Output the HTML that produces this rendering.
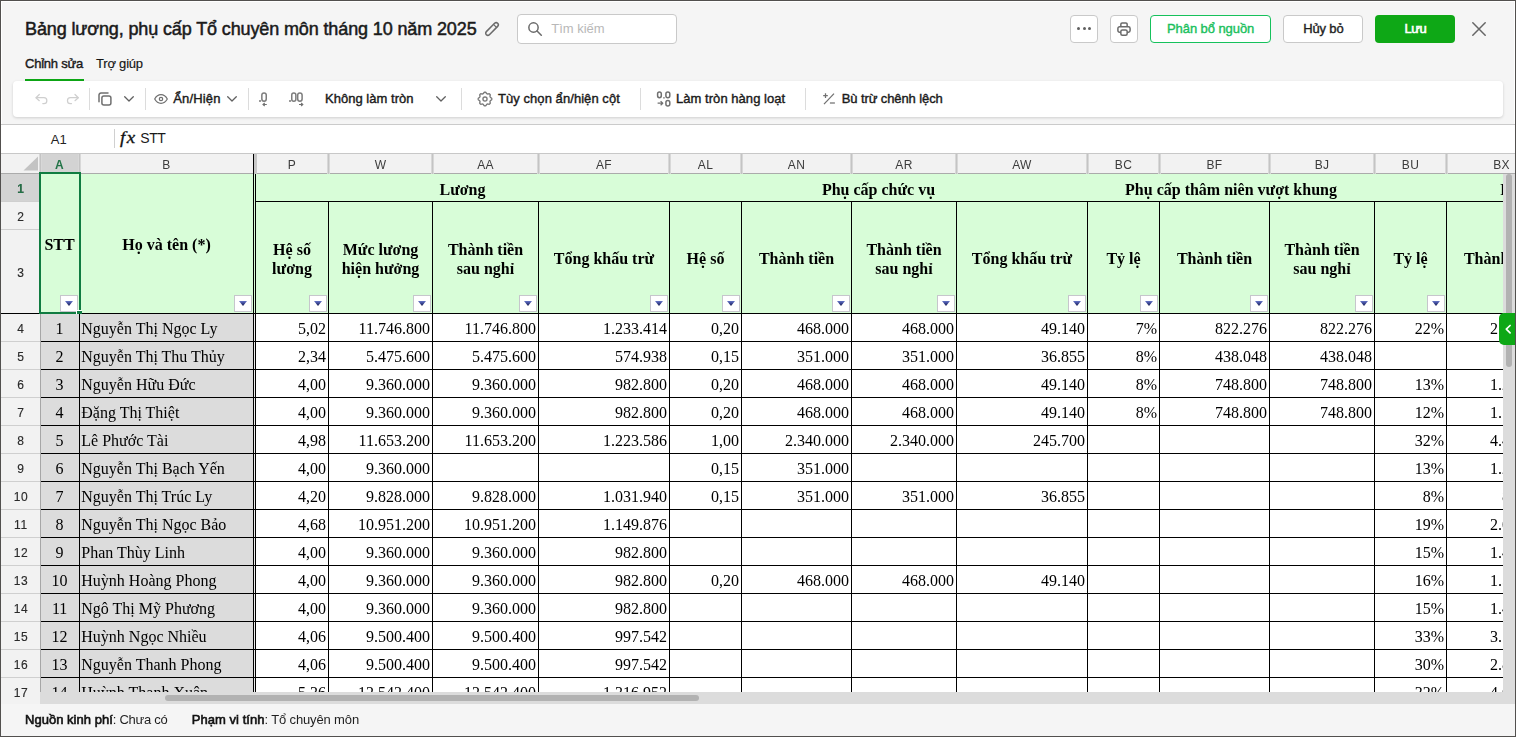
<!DOCTYPE html>
<html><head><meta charset="utf-8"><title>Bảng lương</title>
<style>
html,body{margin:0;padding:0}
body{width:1516px;height:737px;position:relative;overflow:hidden;background:#f5f5f5;font-family:"Liberation Sans",sans-serif}
div{position:absolute;box-sizing:border-box}
.t{white-space:pre}
svg{position:absolute;overflow:visible}
.btn{background:#fff;border:1px solid #c9c9c9;border-radius:4px}
.sep{background:#dcdcdc;width:1px}
.hl{background:#000;height:1px}
.vl{background:#000;width:1px}
.fb{background:#fff;border:1px solid #c6c6cc}
.fb:after{content:"";position:absolute;left:4px;top:5px;width:8px;height:5px;background:linear-gradient(#6878c8,#3a4696 45%,#1c1f48);clip-path:polygon(0 0,100% 0,50% 100%)}

.ch{font:12px/18px 'Liberation Sans',sans-serif;color:#3c3c3c;letter-spacing:0.3px;transform:translateX(-50%);white-space:pre}
.rh{left:1px;width:40px;text-align:center;font:12px/18px 'Liberation Sans',sans-serif;color:#2a2a2a;letter-spacing:0.7px;-webkit-text-stroke:0.15px #2a2a2a}
.hx{font:bold 16px/20px 'Liberation Serif',serif;color:#000;transform:translateX(-50%);white-space:pre}
.dc{font:16px/20px 'Liberation Serif',serif;color:#000;white-space:pre}
</style></head><body>

<div style="left:1px;top:1px;width:1514px;height:735px;border:1px solid #fff"></div>
<div id="title" class="t" style="left:25px;top:17px;font:normal 18px/25px 'Liberation Sans',sans-serif;color:#1a1a1a;letter-spacing:-0.124px;white-space:pre;-webkit-text-stroke:0.5px #1a1a1a;">Bảng lương, phụ cấp Tổ chuyên môn tháng 10 năm 2025</div>
<svg style="left:484px;top:21px" width="16" height="16" viewBox="0 0 16 16" fill="none" stroke="#6a6a6a" stroke-width="1.5" stroke-linecap="round"><g transform="rotate(45 8 8)"><rect x="5.85" y="0" width="4.3" height="16" rx="2.15"/><path d="M5.85 3.7 H10.15" stroke-width="1.2"/></g></svg>
<div class="btn" style="left:517px;top:14px;width:160px;height:30px;"></div>
<svg style="left:527px;top:21px" width="16" height="16" viewBox="0 0 16 16" fill="none" stroke="#6a6a6a" stroke-width="1.5" stroke-linecap="round"><circle cx="6.5" cy="6.5" r="4.65"/><path d="M10 10 L14.3 14.3"/></svg>
<div id="search" class="t" style="left:551.3px;top:20px;font:normal 13px/18px 'Liberation Sans',sans-serif;color:#b8b8b8;letter-spacing:-0.032px;white-space:pre;">Tìm kiếm</div>
<div class="btn" style="left:1070px;top:15px;width:28px;height:28px;"></div>
<div style="left:1077.2px;top:27.2px;width:3px;height:3px;background:#606060;border-radius:50%"></div>
<div style="left:1082.5px;top:27.2px;width:3px;height:3px;background:#606060;border-radius:50%"></div>
<div style="left:1087.9px;top:27.2px;width:3px;height:3px;background:#606060;border-radius:50%"></div>
<div class="btn" style="left:1110px;top:15px;width:28px;height:28px;"></div>
<svg style="left:1116px;top:21px" width="16" height="16" viewBox="0 0 16 16" fill="none" stroke="#6a6a6a" stroke-width="1.5" stroke-linejoin="round"><path d="M4.85 5.6 V3.2 a1.25 1.25 0 0 1 1.25 -1.25 h3.8 a1.25 1.25 0 0 1 1.25 1.25 V5.6"/><path d="M4.85 11.3 H3.6 a1.7 1.7 0 0 1 -1.7 -1.7 V7.5 a1.7 1.7 0 0 1 1.7 -1.7 h8.8 a1.7 1.7 0 0 1 1.7 1.7 V9.6 a1.7 1.7 0 0 1 -1.7 1.7 H11.15"/><rect x="4.85" y="9.05" width="6.3" height="5.1" rx="1.5"/></svg>
<div style="left:1150px;top:15px;width:121px;height:28px;background:#fff;border:1px solid #16c15c;border-radius:4px"></div>
<div id="pbn" class="t" style="left:1167px;top:20px;font:normal 13px/18px 'Liberation Sans',sans-serif;color:#1bbf5d;letter-spacing:-0.077px;white-space:pre;-webkit-text-stroke:0.4px #1bbf5d;">Phân bổ nguồn</div>
<div class="btn" style="left:1283px;top:15px;width:80px;height:28px;"></div>
<div id="huybo" class="t" style="left:1303.3px;top:20px;font:normal 13px/18px 'Liberation Sans',sans-serif;color:#1f1f1f;letter-spacing:-0.167px;white-space:pre;-webkit-text-stroke:0.4px #1f1f1f;">Hủy bỏ</div>
<div style="left:1375px;top:15px;width:80px;height:28px;background:#0ea816;border-radius:4px"></div>
<div id="luu" class="t" style="left:1404.4px;top:20px;font:normal 13px/18px 'Liberation Sans',sans-serif;color:#fff;letter-spacing:-0.424px;white-space:pre;-webkit-text-stroke:0.6px #fff;">Lưu</div>
<svg style="left:1472px;top:22px" width="14" height="14" viewBox="0 0 14 14" fill="none" stroke="#666" stroke-width="1.5" stroke-linecap="round"><path d="M0.8 0.8 L13.2 13.2 M13.2 0.8 L0.8 13.2"/></svg>
<div id="tab1" class="t" style="left:25px;top:55px;font:normal 13px/18px 'Liberation Sans',sans-serif;color:#1a1a1a;letter-spacing:-0.224px;white-space:pre;-webkit-text-stroke:0.4px #1a1a1a;">Chỉnh sửa</div>
<div id="tab2" class="t" style="left:96px;top:55px;font:normal 13px/18px 'Liberation Sans',sans-serif;color:#141414;letter-spacing:-0.202px;white-space:pre;-webkit-text-stroke:0.15px #141414;">Trợ giúp</div>
<div style="left:25px;top:79px;width:59px;height:2px;background:#0ea816"></div>
<div style="left:13px;top:81px;width:1490px;height:36px;background:#fff;border-radius:4px;box-shadow:0 1px 3px rgba(0,0,0,0.16)"></div>
<svg style="left:35px;top:93px" width="13" height="12" viewBox="0 0 13 12" fill="none" stroke="#cfcfcf" stroke-width="1.25" stroke-linecap="round" stroke-linejoin="round"><path d="M4.3 1.5 L1 4.7 L4.3 7.7"/><path d="M1.2 4.7 H8.9 a2.95 2.95 0 0 1 0 5.9 H7.8"/></svg>
<svg style="left:66px;top:93px" width="13" height="12" viewBox="0 0 13 12" fill="none" stroke="#cfcfcf" stroke-width="1.25" stroke-linecap="round" stroke-linejoin="round"><path d="M9 1.5 L12.3 4.7 L9 7.7"/><path d="M12.1 4.7 H4.4 a2.95 2.95 0 0 0 0 5.9 H5.5"/></svg>
<div class="sep" style="left:89px;top:88px;width:1px;height:22px;"></div>
<svg style="left:98px;top:92px" width="14" height="14" viewBox="0 0 14 14" fill="none" stroke="#707070" stroke-width="1.5" stroke-linejoin="round" stroke-linecap="round"><rect x="3.9" y="3.9" width="9" height="9" rx="2"/><path d="M10 1.05 H3 a2 2 0 0 0 -2 2 V9.8"/></svg>
<svg style="left:124.3px;top:96px" width="10" height="6" viewBox="0 0 10 6" fill="none" stroke="#606060" stroke-width="1.3" stroke-linecap="round" stroke-linejoin="round"><path d="M0.7 0.8 L5 5 L9.3 0.8"/></svg>
<div class="sep" style="left:145px;top:88px;width:1px;height:22px;"></div>
<svg style="left:154px;top:94px" width="14" height="10" viewBox="0 0 14 10" fill="none" stroke="#707070" stroke-width="1.2"><path d="M0.7 5 C2.4 1.9 4.6 0.7 7 0.7 S11.6 1.9 13.3 5 C11.6 8.1 9.4 9.3 7 9.3 S2.4 8.1 0.7 5 Z"/><circle cx="7" cy="5" r="1.7"/></svg>
<div id="anhien" class="t" style="left:173.3px;top:90px;font:normal 13px/18px 'Liberation Sans',sans-serif;color:#1a1a1a;letter-spacing:0.136px;white-space:pre;-webkit-text-stroke:0.4px #1a1a1a;">Ẩn/Hiện</div>
<svg style="left:227px;top:96px" width="10" height="6" viewBox="0 0 10 6" fill="none" stroke="#606060" stroke-width="1.3" stroke-linecap="round" stroke-linejoin="round"><path d="M0.7 0.8 L5 5 L9.3 0.8"/></svg>
<div class="sep" style="left:248px;top:88px;width:1px;height:22px;"></div>
<svg style="left:258px;top:91px" width="12" height="16" viewBox="0 0 12 16" fill="none" stroke="#7c7c7c" stroke-width="1.5"><rect x="1" y="9" width="2" height="2" fill="#9a9a9a" stroke="none"/><rect x="3.85" y="1.9" width="4.4" height="8.4" rx="2.2"/><path d="M8.8 13.5 H5.2 M6.7 12 L5 13.5 L6.7 15" stroke-width="1.1" stroke="#707070"/></svg>
<svg style="left:288px;top:91px" width="16" height="16" viewBox="0 0 16 16" fill="none" stroke="#7c7c7c" stroke-width="1.5"><rect x="1" y="9" width="2" height="2" fill="#9a9a9a" stroke="none"/><rect x="3.75" y="1.9" width="4.1" height="8.4" rx="2.05"/><rect x="9.7" y="1.9" width="4.4" height="8.4" rx="2.2"/><path d="M11 13.5 H14.6 M13.1 12 L14.8 13.5 L13.1 15" stroke-width="1.1" stroke="#707070"/></svg>
<div id="klt" class="t" style="left:325px;top:90px;font:normal 13px/18px 'Liberation Sans',sans-serif;color:#1a1a1a;letter-spacing:0.023px;white-space:pre;-webkit-text-stroke:0.4px #1a1a1a;">Không làm tròn</div>
<svg style="left:436px;top:96px" width="10" height="6" viewBox="0 0 10 6" fill="none" stroke="#606060" stroke-width="1.3" stroke-linecap="round" stroke-linejoin="round"><path d="M0.7 0.8 L5 5 L9.3 0.8"/></svg>
<div class="sep" style="left:461px;top:88px;width:1px;height:22px;"></div>
<svg style="left:478px;top:92px" width="14" height="14" viewBox="0 0 14 14" fill="none" stroke="#7a7a7a" stroke-width="1.35" stroke-linejoin="round"><path d="M13.82 7.00 L13.78 7.44 L13.61 7.87 L13.08 8.21 L12.54 8.48 L12.30 8.80 L12.16 9.14 L12.02 9.48 L11.96 9.87 L12.16 10.44 L12.29 11.06 L12.11 11.48 L11.82 11.82 L11.48 12.11 L11.06 12.29 L10.44 12.16 L9.87 11.96 L9.48 12.02 L9.14 12.16 L8.80 12.30 L8.48 12.54 L8.21 13.08 L7.87 13.61 L7.44 13.78 L7.00 13.82 L6.56 13.78 L6.13 13.61 L5.79 13.08 L5.52 12.54 L5.20 12.30 L4.86 12.16 L4.52 12.02 L4.13 11.96 L3.56 12.16 L2.94 12.29 L2.52 12.11 L2.18 11.82 L1.89 11.48 L1.71 11.06 L1.84 10.44 L2.04 9.87 L1.98 9.48 L1.84 9.14 L1.70 8.80 L1.46 8.48 L0.92 8.21 L0.39 7.87 L0.22 7.44 L0.18 7.00 L0.22 6.56 L0.39 6.13 L0.92 5.79 L1.46 5.52 L1.70 5.20 L1.84 4.86 L1.98 4.52 L2.04 4.13 L1.84 3.56 L1.71 2.94 L1.89 2.52 L2.18 2.18 L2.52 1.89 L2.94 1.71 L3.56 1.84 L4.13 2.04 L4.52 1.98 L4.86 1.84 L5.20 1.70 L5.52 1.46 L5.79 0.92 L6.13 0.39 L6.56 0.22 L7.00 0.18 L7.44 0.22 L7.87 0.39 L8.21 0.92 L8.48 1.46 L8.80 1.70 L9.14 1.84 L9.48 1.98 L9.87 2.04 L10.44 1.84 L11.06 1.71 L11.48 1.89 L11.82 2.18 L12.11 2.52 L12.29 2.94 L12.16 3.56 L11.96 4.13 L12.02 4.52 L12.16 4.86 L12.30 5.20 L12.54 5.52 L13.08 5.79 L13.61 6.13 L13.78 6.56 Z"/><circle cx="7" cy="7" r="2.05"/></svg>
<div id="tuychon" class="t" style="left:498px;top:90px;font:normal 13px/18px 'Liberation Sans',sans-serif;color:#1a1a1a;letter-spacing:0.06px;white-space:pre;-webkit-text-stroke:0.4px #1a1a1a;">Tùy chọn ẩn/hiện cột</div>
<div class="sep" style="left:640px;top:88px;width:1px;height:22px;"></div>
<svg style="left:656px;top:90px" width="16" height="18" viewBox="0 0 16 18" fill="none" stroke="#707070" stroke-width="1.5"><rect x="1.6" y="1.9" width="3.7" height="5.8" rx="1.85"/><rect x="9.9" y="1.9" width="3.9" height="5.8" rx="1.95"/><rect x="9.9" y="10.5" width="3.9" height="5.5" rx="1.95"/><rect x="7.2" y="7.2" width="1.5" height="1.3" fill="#707070" stroke="none"/><path d="M1.6 13.2 H6.6 M4.6 11.1 L6.8 13.2 L4.6 15.3" stroke-width="1.2" stroke-linejoin="round"/></svg>
<div id="lamtron" class="t" style="left:676px;top:90px;font:normal 13px/18px 'Liberation Sans',sans-serif;color:#1a1a1a;letter-spacing:0.044px;white-space:pre;-webkit-text-stroke:0.4px #1a1a1a;">Làm tròn hàng loạt</div>
<div class="sep" style="left:805px;top:88px;width:1px;height:22px;"></div>
<svg style="left:822px;top:92px" width="14" height="13" viewBox="0 0 14 13" fill="none" stroke="#707070" stroke-width="1.25" stroke-linecap="butt"><path d="M2 12.1 L12 1.6"/><path d="M1.2 3.6 H5.8 M3.5 1.3 V5.9"/><path d="M7.9 11 H12.9"/></svg>
<div id="butru" class="t" style="left:841.8px;top:90px;font:normal 13px/18px 'Liberation Sans',sans-serif;color:#1a1a1a;letter-spacing:-0.103px;white-space:pre;-webkit-text-stroke:0.4px #1a1a1a;">Bù trừ chênh lệch</div>
<div style="left:1px;top:124px;width:1514px;height:1px;background:#cbcbcb"></div>
<div style="left:1px;top:125px;width:1514px;height:28px;background:#fff"></div>
<div id="a1" class="t" style="left:58.8px;transform:translateX(-50%);top:131px;font:normal 13px/18px 'Liberation Sans',sans-serif;color:#222;letter-spacing:0px;white-space:pre;">A1</div>
<div style="left:114px;top:129px;width:1px;height:19px;background:#d0d0d0"></div>
<div class="t" id="fx" style="left:120px;top:128px;font:italic 17px/20px 'Liberation Serif',serif;color:#111;letter-spacing:1.2px;-webkit-text-stroke:0.3px #111;transform:scaleX(1.12);transform-origin:0 0">fx</div>
<div id="stt0" class="t" style="left:140.3px;top:128px;font:normal 14px/20px 'Liberation Sans',sans-serif;color:#1a1a1a;letter-spacing:-0.418px;white-space:pre;">STT</div>
<div style="left:0;top:0;width:1516px;height:737px;overflow:hidden;will-change:transform">
<div style="left:1px;top:153px;width:1514px;height:551px;background:#fff"></div>
<div style="left:1px;top:153px;width:1514px;height:21px;background:#f2f2f2;border-top:1px solid #c8c8c8;border-bottom:1px solid #ababab"></div>
<div style="left:41px;top:154px;width:39px;height:19px;background:#d3d3d3"></div>
<svg style="left:23px;top:156px" width="16" height="15" viewBox="0 0 16 15"><path d="M15 0.5 V14.5 H0.5 Z" fill="#c3c3c3"/></svg>
<div style="left:39px;top:154px;width:1px;height:20px;background:#d8d8d8"></div>
<div style="left:40px;top:154px;width:1px;height:20px;background:#c4c4c4"></div>
<div style="left:41px;top:154px;width:1px;height:20px;background:#d8d8d8"></div>
<div style="left:78px;top:154px;width:1px;height:20px;background:#d8d8d8"></div>
<div style="left:79px;top:154px;width:1px;height:20px;background:#c4c4c4"></div>
<div style="left:80px;top:154px;width:1px;height:20px;background:#d8d8d8"></div>
<div style="left:254px;top:154px;width:3px;height:20px;background:#c8c8c8"></div>
<div style="left:327px;top:154px;width:1px;height:20px;background:#d8d8d8"></div>
<div style="left:328px;top:154px;width:1px;height:20px;background:#c4c4c4"></div>
<div style="left:329px;top:154px;width:1px;height:20px;background:#d8d8d8"></div>
<div style="left:431px;top:154px;width:1px;height:20px;background:#d8d8d8"></div>
<div style="left:432px;top:154px;width:1px;height:20px;background:#c4c4c4"></div>
<div style="left:433px;top:154px;width:1px;height:20px;background:#d8d8d8"></div>
<div style="left:537px;top:154px;width:1px;height:20px;background:#d8d8d8"></div>
<div style="left:538px;top:154px;width:1px;height:20px;background:#c4c4c4"></div>
<div style="left:539px;top:154px;width:1px;height:20px;background:#d8d8d8"></div>
<div style="left:668px;top:154px;width:1px;height:20px;background:#d8d8d8"></div>
<div style="left:669px;top:154px;width:1px;height:20px;background:#c4c4c4"></div>
<div style="left:670px;top:154px;width:1px;height:20px;background:#d8d8d8"></div>
<div style="left:740px;top:154px;width:1px;height:20px;background:#d8d8d8"></div>
<div style="left:741px;top:154px;width:1px;height:20px;background:#c4c4c4"></div>
<div style="left:742px;top:154px;width:1px;height:20px;background:#d8d8d8"></div>
<div style="left:850px;top:154px;width:1px;height:20px;background:#d8d8d8"></div>
<div style="left:851px;top:154px;width:1px;height:20px;background:#c4c4c4"></div>
<div style="left:852px;top:154px;width:1px;height:20px;background:#d8d8d8"></div>
<div style="left:955px;top:154px;width:1px;height:20px;background:#d8d8d8"></div>
<div style="left:956px;top:154px;width:1px;height:20px;background:#c4c4c4"></div>
<div style="left:957px;top:154px;width:1px;height:20px;background:#d8d8d8"></div>
<div style="left:1086px;top:154px;width:1px;height:20px;background:#d8d8d8"></div>
<div style="left:1087px;top:154px;width:1px;height:20px;background:#c4c4c4"></div>
<div style="left:1088px;top:154px;width:1px;height:20px;background:#d8d8d8"></div>
<div style="left:1158px;top:154px;width:1px;height:20px;background:#d8d8d8"></div>
<div style="left:1159px;top:154px;width:1px;height:20px;background:#c4c4c4"></div>
<div style="left:1160px;top:154px;width:1px;height:20px;background:#d8d8d8"></div>
<div style="left:1268px;top:154px;width:1px;height:20px;background:#d8d8d8"></div>
<div style="left:1269px;top:154px;width:1px;height:20px;background:#c4c4c4"></div>
<div style="left:1270px;top:154px;width:1px;height:20px;background:#d8d8d8"></div>
<div style="left:1373px;top:154px;width:1px;height:20px;background:#d8d8d8"></div>
<div style="left:1374px;top:154px;width:1px;height:20px;background:#c4c4c4"></div>
<div style="left:1375px;top:154px;width:1px;height:20px;background:#d8d8d8"></div>
<div style="left:1445px;top:154px;width:1px;height:20px;background:#d8d8d8"></div>
<div style="left:1446px;top:154px;width:1px;height:20px;background:#c4c4c4"></div>
<div style="left:1447px;top:154px;width:1px;height:20px;background:#d8d8d8"></div>
<div class="ch" style="left:59.5px;top:156px;color:#217346;font-weight:bold">A</div>
<div class="ch" style="left:166.5px;top:156px">B</div>
<div class="ch" style="left:292.0px;top:156px">P</div>
<div class="ch" style="left:380.5px;top:156px">W</div>
<div class="ch" style="left:485.5px;top:156px">AA</div>
<div class="ch" style="left:604.0px;top:156px">AF</div>
<div class="ch" style="left:705.5px;top:156px">AL</div>
<div class="ch" style="left:796.5px;top:156px">AN</div>
<div class="ch" style="left:904.0px;top:156px">AR</div>
<div class="ch" style="left:1022.0px;top:156px">AW</div>
<div class="ch" style="left:1123.5px;top:156px">BC</div>
<div class="ch" style="left:1214.5px;top:156px">BF</div>
<div class="ch" style="left:1322.0px;top:156px">BJ</div>
<div class="ch" style="left:1410.5px;top:156px">BU</div>
<div class="ch" style="left:1501.5px;top:156px">BX</div>
<div style="left:41px;top:174px;width:1462px;height:139px;background:#d8fdd8"></div>
<div style="left:41px;top:314px;width:212px;height:378px;background:#dcdcdc"></div>
<div style="left:254px;top:314px;width:1px;height:378px;background:#ececec"></div>
<div style="left:1px;top:174px;width:39px;height:530px;background:#f2f2f2"></div>
<div style="left:1px;top:174px;width:39px;height:27px;background:#d3d3d3"></div>
<div style="left:40px;top:314px;width:1px;height:390px;background:#a6a6a6"></div>
<div style="left:1px;top:201px;width:39px;height:1px;background:#cfcfcf"></div>
<div style="left:1px;top:229px;width:39px;height:1px;background:#cfcfcf"></div>
<div style="left:1px;top:341px;width:39px;height:1px;background:#cfcfcf"></div>
<div style="left:1px;top:369px;width:39px;height:1px;background:#cfcfcf"></div>
<div style="left:1px;top:397px;width:39px;height:1px;background:#cfcfcf"></div>
<div style="left:1px;top:425px;width:39px;height:1px;background:#cfcfcf"></div>
<div style="left:1px;top:453px;width:39px;height:1px;background:#cfcfcf"></div>
<div style="left:1px;top:481px;width:39px;height:1px;background:#cfcfcf"></div>
<div style="left:1px;top:509px;width:39px;height:1px;background:#cfcfcf"></div>
<div style="left:1px;top:537px;width:39px;height:1px;background:#cfcfcf"></div>
<div style="left:1px;top:565px;width:39px;height:1px;background:#cfcfcf"></div>
<div style="left:1px;top:593px;width:39px;height:1px;background:#cfcfcf"></div>
<div style="left:1px;top:621px;width:39px;height:1px;background:#cfcfcf"></div>
<div style="left:1px;top:649px;width:39px;height:1px;background:#cfcfcf"></div>
<div style="left:1px;top:677px;width:39px;height:1px;background:#cfcfcf"></div>
<div style="left:1px;top:705px;width:39px;height:1px;background:#cfcfcf"></div>
<div class="rh" style="top:180px;color:#217346;font-weight:bold">1</div>
<div class="rh" style="top:208px;">2</div>
<div class="rh" style="top:264px;">3</div>
<div class="rh" style="top:320px;">4</div>
<div class="rh" style="top:348px;">5</div>
<div class="rh" style="top:376px;">6</div>
<div class="rh" style="top:404px;">7</div>
<div class="rh" style="top:432px;">8</div>
<div class="rh" style="top:460px;">9</div>
<div class="rh" style="top:488px;">10</div>
<div class="rh" style="top:516px;">11</div>
<div class="rh" style="top:544px;">12</div>
<div class="rh" style="top:572px;">13</div>
<div class="rh" style="top:600px;">14</div>
<div class="rh" style="top:628px;">15</div>
<div class="rh" style="top:656px;">16</div>
<div class="rh" style="top:684px;">17</div>
<div class="hl" style="left:255px;top:201px;width:1248px;height:1px;"></div>
<div class="hl" style="left:1px;top:313px;width:1502px;height:1px;"></div>
<div class="hl" style="left:41px;top:341px;width:1462px;height:1px;"></div>
<div class="hl" style="left:41px;top:369px;width:1462px;height:1px;"></div>
<div class="hl" style="left:41px;top:397px;width:1462px;height:1px;"></div>
<div class="hl" style="left:41px;top:425px;width:1462px;height:1px;"></div>
<div class="hl" style="left:41px;top:453px;width:1462px;height:1px;"></div>
<div class="hl" style="left:41px;top:481px;width:1462px;height:1px;"></div>
<div class="hl" style="left:41px;top:509px;width:1462px;height:1px;"></div>
<div class="hl" style="left:41px;top:537px;width:1462px;height:1px;"></div>
<div class="hl" style="left:41px;top:565px;width:1462px;height:1px;"></div>
<div class="hl" style="left:41px;top:593px;width:1462px;height:1px;"></div>
<div class="hl" style="left:41px;top:621px;width:1462px;height:1px;"></div>
<div class="hl" style="left:41px;top:649px;width:1462px;height:1px;"></div>
<div class="hl" style="left:41px;top:677px;width:1462px;height:1px;"></div>
<div class="hl" style="left:41px;top:705px;width:1462px;height:1px;"></div>
<div class="vl" style="left:253px;top:154px;width:1px;height:538px;"></div>
<div class="vl" style="left:255px;top:174px;width:1px;height:518px;"></div>
<div class="vl" style="left:79px;top:174px;width:1px;height:518px;"></div>
<div class="vl" style="left:328px;top:201px;width:1px;height:491px;"></div>
<div class="vl" style="left:432px;top:201px;width:1px;height:491px;"></div>
<div class="vl" style="left:538px;top:201px;width:1px;height:491px;"></div>
<div class="vl" style="left:669px;top:201px;width:1px;height:491px;"></div>
<div class="vl" style="left:741px;top:201px;width:1px;height:491px;"></div>
<div class="vl" style="left:851px;top:201px;width:1px;height:491px;"></div>
<div class="vl" style="left:956px;top:201px;width:1px;height:491px;"></div>
<div class="vl" style="left:1087px;top:201px;width:1px;height:491px;"></div>
<div class="vl" style="left:1159px;top:201px;width:1px;height:491px;"></div>
<div class="vl" style="left:1269px;top:201px;width:1px;height:491px;"></div>
<div class="vl" style="left:1374px;top:201px;width:1px;height:491px;"></div>
<div class="vl" style="left:1446px;top:201px;width:1px;height:491px;"></div>
<div id="h_stt" class="hx" style="left:59.5px;top:235px">STT</div>
<div id="h_name" class="hx" style="left:166.5px;top:235px">Họ và tên (*)</div>
<div id="h_luong" class="hx" style="left:462.5px;top:180px">Lương</div>
<div id="h_pccv" class="hx" style="left:878.5px;top:180px">Phụ cấp chức vụ</div>
<div id="h_pctn" class="hx" style="left:1231px;top:180px">Phụ cấp thâm niên vượt khung</div>
<div id="h_pcn" class="hx" style="left:1583px;top:180px">Phụ cấp thâm niên nghề</div>
<div id="h_P_0" class="hx" style="left:292.0px;top:240px">Hệ số</div>
<div id="h_P_1" class="hx" style="left:292.0px;top:259px">lương</div>
<div id="h_W_0" class="hx" style="left:380.5px;top:240px">Mức lương</div>
<div id="h_W_1" class="hx" style="left:380.5px;top:259px">hiện hưởng</div>
<div id="h_AA_0" class="hx" style="left:485.5px;top:240px">Thành tiền</div>
<div id="h_AA_1" class="hx" style="left:485.5px;top:259px">sau nghỉ</div>
<div id="h_AF_0" class="hx" style="left:604.0px;top:249px">Tổng khấu trừ</div>
<div id="h_AL_0" class="hx" style="left:705.5px;top:249px">Hệ số</div>
<div id="h_AN_0" class="hx" style="left:796.5px;top:249px">Thành tiền</div>
<div id="h_AR_0" class="hx" style="left:904.0px;top:240px">Thành tiền</div>
<div id="h_AR_1" class="hx" style="left:904.0px;top:259px">sau nghỉ</div>
<div id="h_AW_0" class="hx" style="left:1022.0px;top:249px">Tổng khấu trừ</div>
<div id="h_BC_0" class="hx" style="left:1123.5px;top:249px">Tỷ lệ</div>
<div id="h_BF_0" class="hx" style="left:1214.5px;top:249px">Thành tiền</div>
<div id="h_BJ_0" class="hx" style="left:1322.0px;top:240px">Thành tiền</div>
<div id="h_BJ_1" class="hx" style="left:1322.0px;top:259px">sau nghỉ</div>
<div id="h_BU_0" class="hx" style="left:1410.5px;top:249px">Tỷ lệ</div>
<div id="h_BX_0" class="hx" style="left:1501.5px;top:249px">Thành tiền</div>
<div class="fb" style="left:60px;top:295px;width:18px;height:17px;"></div>
<div class="fb" style="left:234px;top:295px;width:18px;height:17px;"></div>
<div class="fb" style="left:309px;top:295px;width:18px;height:17px;"></div>
<div class="fb" style="left:413px;top:295px;width:18px;height:17px;"></div>
<div class="fb" style="left:519px;top:295px;width:18px;height:17px;"></div>
<div class="fb" style="left:650px;top:295px;width:18px;height:17px;"></div>
<div class="fb" style="left:722px;top:295px;width:18px;height:17px;"></div>
<div class="fb" style="left:832px;top:295px;width:18px;height:17px;"></div>
<div class="fb" style="left:937px;top:295px;width:18px;height:17px;"></div>
<div class="fb" style="left:1068px;top:295px;width:18px;height:17px;"></div>
<div class="fb" style="left:1140px;top:295px;width:18px;height:17px;"></div>
<div class="fb" style="left:1250px;top:295px;width:18px;height:17px;"></div>
<div class="fb" style="left:1355px;top:295px;width:18px;height:17px;"></div>
<div class="fb" style="left:1427px;top:295px;width:18px;height:17px;"></div>
<div class="fb" style="left:1537px;top:295px;width:18px;height:17px;"></div>
<div class="dc" style="left:59.6px;top:319px;transform:translateX(-50%)">1</div>
<div class="dc" style="left:81.3px;top:319px">Nguyễn Thị Ngọc Ly</div>
<div class="dc" style="right:1190px;top:319px">5,02</div>
<div class="dc" style="right:1086px;top:319px">11.746.800</div>
<div class="dc" style="right:980px;top:319px">11.746.800</div>
<div class="dc" style="right:849px;top:319px">1.233.414</div>
<div class="dc" style="right:777px;top:319px">0,20</div>
<div class="dc" style="right:667px;top:319px">468.000</div>
<div class="dc" style="right:562px;top:319px">468.000</div>
<div class="dc" style="right:431px;top:319px">49.140</div>
<div class="dc" style="right:359px;top:319px">7%</div>
<div class="dc" style="right:249px;top:319px">822.276</div>
<div class="dc" style="right:144px;top:319px">822.276</div>
<div class="dc" style="right:72px;top:319px">22%</div>
<div class="dc" style="right:-38px;top:319px">2.584.296</div>
<div class="dc" style="left:59.6px;top:347px;transform:translateX(-50%)">2</div>
<div class="dc" style="left:81.3px;top:347px">Nguyễn Thị Thu Thủy</div>
<div class="dc" style="right:1190px;top:347px">2,34</div>
<div class="dc" style="right:1086px;top:347px">5.475.600</div>
<div class="dc" style="right:980px;top:347px">5.475.600</div>
<div class="dc" style="right:849px;top:347px">574.938</div>
<div class="dc" style="right:777px;top:347px">0,15</div>
<div class="dc" style="right:667px;top:347px">351.000</div>
<div class="dc" style="right:562px;top:347px">351.000</div>
<div class="dc" style="right:431px;top:347px">36.855</div>
<div class="dc" style="right:359px;top:347px">8%</div>
<div class="dc" style="right:249px;top:347px">438.048</div>
<div class="dc" style="right:144px;top:347px">438.048</div>
<div class="dc" style="left:59.6px;top:375px;transform:translateX(-50%)">3</div>
<div class="dc" style="left:81.3px;top:375px">Nguyễn Hữu Đức</div>
<div class="dc" style="right:1190px;top:375px">4,00</div>
<div class="dc" style="right:1086px;top:375px">9.360.000</div>
<div class="dc" style="right:980px;top:375px">9.360.000</div>
<div class="dc" style="right:849px;top:375px">982.800</div>
<div class="dc" style="right:777px;top:375px">0,20</div>
<div class="dc" style="right:667px;top:375px">468.000</div>
<div class="dc" style="right:562px;top:375px">468.000</div>
<div class="dc" style="right:431px;top:375px">49.140</div>
<div class="dc" style="right:359px;top:375px">8%</div>
<div class="dc" style="right:249px;top:375px">748.800</div>
<div class="dc" style="right:144px;top:375px">748.800</div>
<div class="dc" style="right:72px;top:375px">13%</div>
<div class="dc" style="right:-38px;top:375px">1.216.800</div>
<div class="dc" style="left:59.6px;top:403px;transform:translateX(-50%)">4</div>
<div class="dc" style="left:81.3px;top:403px">Đặng Thị Thiệt</div>
<div class="dc" style="right:1190px;top:403px">4,00</div>
<div class="dc" style="right:1086px;top:403px">9.360.000</div>
<div class="dc" style="right:980px;top:403px">9.360.000</div>
<div class="dc" style="right:849px;top:403px">982.800</div>
<div class="dc" style="right:777px;top:403px">0,20</div>
<div class="dc" style="right:667px;top:403px">468.000</div>
<div class="dc" style="right:562px;top:403px">468.000</div>
<div class="dc" style="right:431px;top:403px">49.140</div>
<div class="dc" style="right:359px;top:403px">8%</div>
<div class="dc" style="right:249px;top:403px">748.800</div>
<div class="dc" style="right:144px;top:403px">748.800</div>
<div class="dc" style="right:72px;top:403px">12%</div>
<div class="dc" style="right:-38px;top:403px">1.123.200</div>
<div class="dc" style="left:59.6px;top:431px;transform:translateX(-50%)">5</div>
<div class="dc" style="left:81.3px;top:431px">Lê Phước Tài</div>
<div class="dc" style="right:1190px;top:431px">4,98</div>
<div class="dc" style="right:1086px;top:431px">11.653.200</div>
<div class="dc" style="right:980px;top:431px">11.653.200</div>
<div class="dc" style="right:849px;top:431px">1.223.586</div>
<div class="dc" style="right:777px;top:431px">1,00</div>
<div class="dc" style="right:667px;top:431px">2.340.000</div>
<div class="dc" style="right:562px;top:431px">2.340.000</div>
<div class="dc" style="right:431px;top:431px">245.700</div>
<div class="dc" style="right:72px;top:431px">32%</div>
<div class="dc" style="right:-38px;top:431px">4.477.824</div>
<div class="dc" style="left:59.6px;top:459px;transform:translateX(-50%)">6</div>
<div class="dc" style="left:81.3px;top:459px">Nguyễn Thị Bạch Yến</div>
<div class="dc" style="right:1190px;top:459px">4,00</div>
<div class="dc" style="right:1086px;top:459px">9.360.000</div>
<div class="dc" style="right:777px;top:459px">0,15</div>
<div class="dc" style="right:667px;top:459px">351.000</div>
<div class="dc" style="right:72px;top:459px">13%</div>
<div class="dc" style="right:-38px;top:459px">1.262.430</div>
<div class="dc" style="left:59.6px;top:487px;transform:translateX(-50%)">7</div>
<div class="dc" style="left:81.3px;top:487px">Nguyễn Thị Trúc Ly</div>
<div class="dc" style="right:1190px;top:487px">4,20</div>
<div class="dc" style="right:1086px;top:487px">9.828.000</div>
<div class="dc" style="right:980px;top:487px">9.828.000</div>
<div class="dc" style="right:849px;top:487px">1.031.940</div>
<div class="dc" style="right:777px;top:487px">0,15</div>
<div class="dc" style="right:667px;top:487px">351.000</div>
<div class="dc" style="right:562px;top:487px">351.000</div>
<div class="dc" style="right:431px;top:487px">36.855</div>
<div class="dc" style="right:72px;top:487px">8%</div>
<div class="dc" style="right:-38px;top:487px">814.320</div>
<div class="dc" style="left:59.6px;top:515px;transform:translateX(-50%)">8</div>
<div class="dc" style="left:81.3px;top:515px">Nguyễn Thị Ngọc Bảo</div>
<div class="dc" style="right:1190px;top:515px">4,68</div>
<div class="dc" style="right:1086px;top:515px">10.951.200</div>
<div class="dc" style="right:980px;top:515px">10.951.200</div>
<div class="dc" style="right:849px;top:515px">1.149.876</div>
<div class="dc" style="right:72px;top:515px">19%</div>
<div class="dc" style="right:-38px;top:515px">2.080.728</div>
<div class="dc" style="left:59.6px;top:543px;transform:translateX(-50%)">9</div>
<div class="dc" style="left:81.3px;top:543px">Phan Thùy Linh</div>
<div class="dc" style="right:1190px;top:543px">4,00</div>
<div class="dc" style="right:1086px;top:543px">9.360.000</div>
<div class="dc" style="right:980px;top:543px">9.360.000</div>
<div class="dc" style="right:849px;top:543px">982.800</div>
<div class="dc" style="right:72px;top:543px">15%</div>
<div class="dc" style="right:-38px;top:543px">1.404.000</div>
<div class="dc" style="left:59.6px;top:571px;transform:translateX(-50%)">10</div>
<div class="dc" style="left:81.3px;top:571px">Huỳnh Hoàng Phong</div>
<div class="dc" style="right:1190px;top:571px">4,00</div>
<div class="dc" style="right:1086px;top:571px">9.360.000</div>
<div class="dc" style="right:980px;top:571px">9.360.000</div>
<div class="dc" style="right:849px;top:571px">982.800</div>
<div class="dc" style="right:777px;top:571px">0,20</div>
<div class="dc" style="right:667px;top:571px">468.000</div>
<div class="dc" style="right:562px;top:571px">468.000</div>
<div class="dc" style="right:431px;top:571px">49.140</div>
<div class="dc" style="right:72px;top:571px">16%</div>
<div class="dc" style="right:-38px;top:571px">1.572.480</div>
<div class="dc" style="left:59.6px;top:599px;transform:translateX(-50%)">11</div>
<div class="dc" style="left:81.3px;top:599px">Ngô Thị Mỹ Phương</div>
<div class="dc" style="right:1190px;top:599px">4,00</div>
<div class="dc" style="right:1086px;top:599px">9.360.000</div>
<div class="dc" style="right:980px;top:599px">9.360.000</div>
<div class="dc" style="right:849px;top:599px">982.800</div>
<div class="dc" style="right:72px;top:599px">15%</div>
<div class="dc" style="right:-38px;top:599px">1.404.000</div>
<div class="dc" style="left:59.6px;top:627px;transform:translateX(-50%)">12</div>
<div class="dc" style="left:81.3px;top:627px">Huỳnh Ngọc Nhiều</div>
<div class="dc" style="right:1190px;top:627px">4,06</div>
<div class="dc" style="right:1086px;top:627px">9.500.400</div>
<div class="dc" style="right:980px;top:627px">9.500.400</div>
<div class="dc" style="right:849px;top:627px">997.542</div>
<div class="dc" style="right:72px;top:627px">33%</div>
<div class="dc" style="right:-38px;top:627px">3.135.132</div>
<div class="dc" style="left:59.6px;top:655px;transform:translateX(-50%)">13</div>
<div class="dc" style="left:81.3px;top:655px">Nguyễn Thanh Phong</div>
<div class="dc" style="right:1190px;top:655px">4,06</div>
<div class="dc" style="right:1086px;top:655px">9.500.400</div>
<div class="dc" style="right:980px;top:655px">9.500.400</div>
<div class="dc" style="right:849px;top:655px">997.542</div>
<div class="dc" style="right:72px;top:655px">30%</div>
<div class="dc" style="right:-38px;top:655px">2.850.120</div>
<div class="dc" style="left:59.6px;top:683px;transform:translateX(-50%)">14</div>
<div class="dc" style="left:81.3px;top:683px">Huỳnh Thanh Xuân</div>
<div class="dc" style="right:1190px;top:683px">5,36</div>
<div class="dc" style="right:1086px;top:683px">12.542.400</div>
<div class="dc" style="right:980px;top:683px">12.542.400</div>
<div class="dc" style="right:849px;top:683px">1.316.952</div>
<div class="dc" style="right:72px;top:683px">32%</div>
<div class="dc" style="right:-38px;top:683px">4.013.568</div>
<div style="left:39px;top:172px;width:42px;height:142px;border:2px solid #107c41"></div>
<div style="left:76px;top:310px;width:6px;height:4px;background:#107c41;border-top:1px solid #fff;border-left:1px solid #fff"></div>
<div style="left:40px;top:692px;width:1475px;height:12px;background:#dcdcdc"></div>
<div style="left:165px;top:695px;width:534px;height:6px;background:#b2b2b2;border-radius:3px"></div>
<div style="left:1px;top:704px;width:1514px;height:32px;background:#f5f5f5"></div>
<div style="left:1503px;top:174px;width:12px;height:530px;background:#dcdcdc"></div>
<div style="left:1506px;top:174px;width:6px;height:193px;background:#b2b2b2;border-radius:3px"></div>
<div style="left:1499px;top:313px;width:17px;height:32px;background:#0ea816;border-radius:5px 0 0 5px"></div>
<svg style="left:1504px;top:323px" width="8" height="12" viewBox="0 0 8 12" fill="none" stroke="#fff" stroke-width="1.7" stroke-linecap="round" stroke-linejoin="round"><path d="M6.1 2.5 L2.3 6.2 L6.1 9.9"/></svg>
</div>
<div id="f1" class="t" style="left:25px;top:711px;font:normal 13px/18px 'Liberation Sans',sans-serif;color:#111;letter-spacing:0.025px;white-space:pre;-webkit-text-stroke:0.6px #111;">Nguồn kinh phí</div>
<div id="f2" class="t" style="left:112.8px;top:711px;font:normal 13px/18px 'Liberation Sans',sans-serif;color:#1f1f1f;letter-spacing:-0.269px;white-space:pre;">: Chưa có</div>
<div id="f3" class="t" style="left:191.8px;top:711px;font:normal 13px/18px 'Liberation Sans',sans-serif;color:#111;letter-spacing:0.036px;white-space:pre;-webkit-text-stroke:0.6px #111;">Phạm vi tính</div>
<div id="f4" class="t" style="left:264.5px;top:711px;font:normal 13px/18px 'Liberation Sans',sans-serif;color:#1f1f1f;letter-spacing:-0.14px;white-space:pre;">: Tổ chuyên môn</div>
<div style="left:0px;top:0px;width:1516px;height:737px;border:1px solid #52504e;z-index:50"></div>
</body></html>
